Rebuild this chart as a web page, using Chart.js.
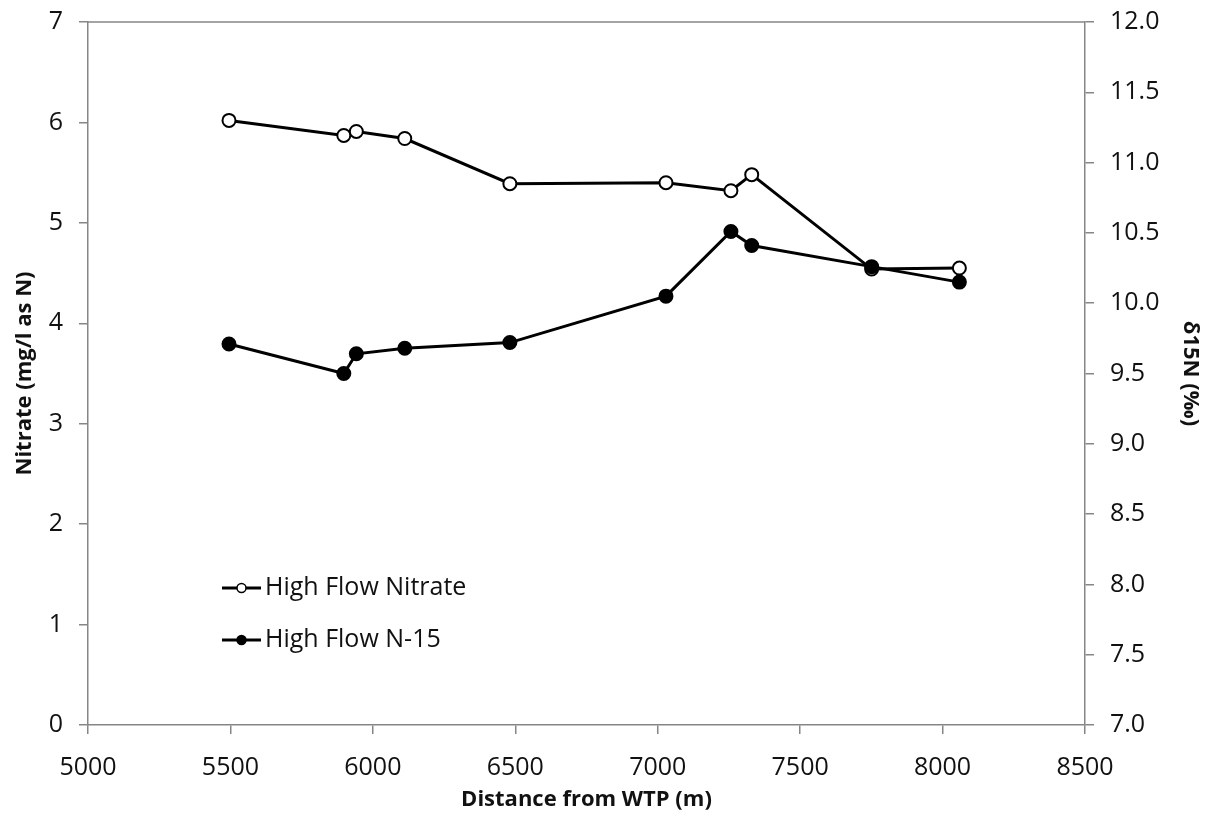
<!DOCTYPE html>
<html>
<head>
<meta charset="utf-8">
<script src="https://cdn.jsdelivr.net/npm/chart.js@4.4.1/dist/chart.umd.min.js"></script>
<style>
    html, body { margin: 0; padding: 0; background: #fff; }
    #wrap { width: 1211px; height: 820px; }
</style>
</head>
<body>
<div id="wrap"><canvas id="nitrate"></canvas></div>
<script>
// Sampling distances (m)
const DISTANCE = [5495, 5898, 5942, 6112, 6481, 7029, 7257, 7330, 7751, 8059];

// Series values
const NITRATE = [6.02, 5.87, 5.91, 5.84, 5.39, 5.40, 5.32, 5.48, 4.54, 4.55];
const N15     = [9.71, 9.50, 9.64, 9.68, 9.72, 10.05, 10.51, 10.41, 10.26, 10.15];

const LABELS = ['High Flow Nitrate', 'High Flow N-15'];

// Axis ranges
const X_RANGE  = [5000, 8500, 500];
const Y_RANGE  = [0, 7, 1];
const Y1_RANGE = [7, 12, 0.5];

const AXIS_GREY = '#868686';
const FONT = 'Open Sans';

const to_points = ys => ys.map((y, i) => ({ x: DISTANCE[i], y: y }));

// draws the frame top and the legend inside the plot
const frame_and_legend = {
    id: 'frame_and_legend',
    afterDraw(chart, args, opts) {
        const { ctx, chartArea } = chart;
        ctx.save();
        ctx.strokeStyle = AXIS_GREY;
        ctx.lineWidth = 1.5;
        ctx.beginPath();
        ctx.moveTo(chartArea.left, chartArea.top);
        ctx.lineTo(chartArea.right, chartArea.top);
        ctx.stroke();

        chart.data.datasets.forEach((ds, i) => {
            const y = opts.y + i * opts.gap;
            ctx.strokeStyle = '#000';
            ctx.lineWidth = 3;
            ctx.beginPath();
            ctx.moveTo(opts.x, y);
            ctx.lineTo(opts.x + 39, y);
            ctx.stroke();
            ctx.beginPath();
            ctx.arc(opts.x + 19.5, y, 4.5, 0, Math.PI * 2);
            ctx.fillStyle = ds.pointBackgroundColor;
            ctx.fill();
            ctx.lineWidth = 1.5;
            ctx.stroke();
            ctx.fillStyle = '#111';
            ctx.font = '25px "' + FONT + '"';
            ctx.textBaseline = 'middle';
            ctx.fillText(ds.label, opts.x + 43, y);
        });
        ctx.restore();
    }
};

const axis_common = {
    grid: { drawOnChartArea: false, drawTicks: true, tickLength: 9, color: AXIS_GREY, lineWidth: 1.5 },
    border: { color: AXIS_GREY, width: 1.5 },
};

// fixed axis box sizes, no extra overflow padding
const fix_width = w => s => { s.width = w; s.paddingTop = 0; s.paddingBottom = 0; };
const fix_height = h => s => { s.height = h; s.paddingLeft = 0; s.paddingRight = 0; };

window.onload = () => {
    new Chart(document.getElementById('nitrate'), {
        type: 'line',
        data: {
            datasets: [
                {
                    label: LABELS[0],
                    data: to_points(NITRATE),
                    yAxisID: 'y',
                    borderColor: '#000',
                    borderWidth: 3,
                    pointRadius: 6.5,
                    pointBorderWidth: 2,
                    pointBackgroundColor: '#fff',
                    pointBorderColor: '#000',
                    order: 1
                },
                {
                    label: LABELS[1],
                    data: to_points(N15),
                    yAxisID: 'y1',
                    borderColor: '#000',
                    borderWidth: 3,
                    pointRadius: 6.5,
                    pointBorderWidth: 2,
                    pointBackgroundColor: '#000',
                    pointBorderColor: '#000',
                    order: 0
                }
            ]
        },
        options: {
            responsive: true,
            maintainAspectRatio: false,
            animation: false,
            layout: { padding: { top: 22, left: 0, right: 0, bottom: 0 } },
            plugins: {
                legend: { display: false },
                tooltip: { enabled: false },
                frame_and_legend: { x: 222, y: 588, gap: 52 }
            },
            scales: {
                x: {
                    type: 'linear',
                    min: X_RANGE[0], max: X_RANGE[1],
                    ...axis_common,
                    ticks: { stepSize: X_RANGE[2], color: '#111', padding: 19,
                             font: { family: FONT, size: 25 },
                             callback: v => String(v) },
                    title: { display: true, text: 'Distance from WTP (m)', color: '#111',
                             font: { family: FONT, size: 22, weight: 'bold' },
                             padding: { top: 0, bottom: 7 } },
                    afterFit: fix_height(95)
                },
                y: {
                    position: 'left',
                    min: Y_RANGE[0], max: Y_RANGE[1],
                    ...axis_common,
                    ticks: { stepSize: Y_RANGE[2], color: '#111', padding: 16,
                             font: { family: FONT, size: 25 } },
                    title: { display: true, text: 'Nitrate (mg/l as N)', color: '#111',
                             font: { family: FONT, size: 22, weight: 'bold' },
                             padding: { top: 12, bottom: 0 } },
                    afterFit: fix_width(88)
                },
                y1: {
                    position: 'right',
                    min: Y1_RANGE[0], max: Y1_RANGE[1],
                    ...axis_common,
                    ticks: { stepSize: Y1_RANGE[2], color: '#111', padding: 16,
                             font: { family: FONT, size: 25 },
                             callback: v => v.toFixed(1) },
                    title: { display: true, text: 'δ15N (‰)', color: '#111',
                             font: { family: FONT, size: 22, weight: 'bold' },
                             padding: { top: 8, bottom: 0 } },
                    afterFit: fix_width(126)
                }
            }
        },
        plugins: [frame_and_legend]
    });
}
</script>
</body>
</html>
